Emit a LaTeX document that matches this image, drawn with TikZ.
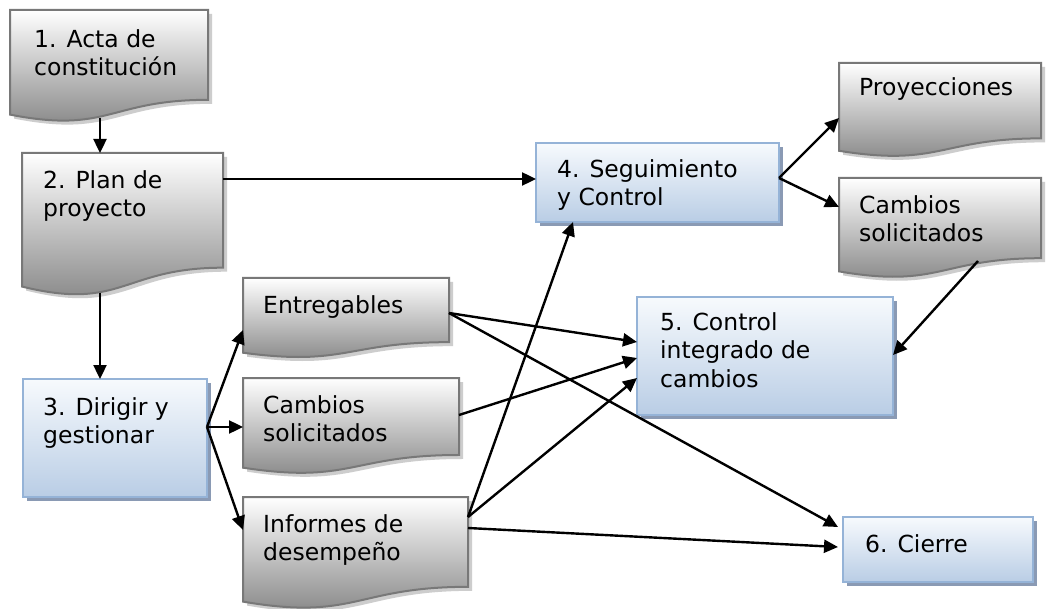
\documentclass[tikz,border=0pt]{standalone}
\usepackage{fontspec}
\setmainfont{DejaVu Sans}
\usetikzlibrary{arrows.meta,calc}
\definecolor{docshadow}{RGB}{205,205,205}
\definecolor{docborder}{RGB}{120,120,120}
\definecolor{doctop}{RGB}{255,255,255}
\definecolor{docbot}{RGB}{128,128,128}
\definecolor{boxshadow}{RGB}{138,154,180}
\definecolor{boxborder}{RGB}{149,179,215}
\definecolor{boxtop}{RGB}{247,250,253}
\definecolor{boxbot}{RGB}{185,205,229}
\tikzset{
  frame/.style={draw=none,inner sep=0pt,outer sep=0pt},
  txt/.style={anchor=north west,inner sep=0pt,align=left,font=\fontsize{23.5}{28.5}\selectfont},
  arr/.style={line width=2.4pt,-{Triangle[length=14pt,width=13pt]}},
}
\newcommand\docnode[8]{% name L T R H tx ty text
  \pgfmathsetmacro\yR{#3+0.802*#5}%
  \pgfmathsetmacro\yL{#3+0.934*#5}%
  \pgfmathsetmacro\yC{#3+1.108*#5}%
  \pgfmathsetmacro\xM{(#2+#4)/2}%
  \pgfmathsetmacro\yM{(#3+\yR)/2}%
  \pgfmathsetmacro\dW{#4-#2}%
  \pgfmathsetmacro\dH{\yR-#3}%
  \fill[docshadow,shift={(4,4)}] (#2,#3) -- (#4,#3) -- (#4,\yR) .. controls (\xM,\yR) and (\xM,\yC) .. (#2,\yL) -- cycle;
  \shade[top color=doctop,bottom color=docbot] (#2,#3) -- (#4,#3) -- (#4,\yR) .. controls (\xM,\yR) and (\xM,\yC) .. (#2,\yL) -- cycle;
  \draw[docborder,line width=2pt,line join=miter] (#2,#3) -- (#4,#3) -- (#4,\yR) .. controls (\xM,\yR) and (\xM,\yC) .. (#2,\yL) -- cycle;
  \node[frame,minimum width=\dW pt,minimum height=\dH pt] (#1) at (\xM,\yM) {};
  \node[txt] (#1t) at (#2+#6,#3+#7-21) {\rule{0pt}{21pt}#8};
}
\newcommand\boxnode[8]{% name L T R B tx ty text
  \pgfmathsetmacro\xM{(#2+#4)/2}%
  \pgfmathsetmacro\yM{(#3+#5)/2}%
  \pgfmathsetmacro\dW{#4-#2}%
  \pgfmathsetmacro\dH{#5-#3}%
  \fill[boxshadow] (#2+4,#3+4) rectangle (#4+4,#5+4);
  \shade[top color=boxtop,bottom color=boxbot] (#2,#3) rectangle (#4,#5);
  \draw[boxborder,line width=2pt] (#2,#3) rectangle (#4,#5);
  \node[frame,minimum width=\dW pt,minimum height=\dH pt] (#1) at (\xM,\yM) {};
  \node[txt] (#1t) at (#2+#6,#3+#7-21) {\rule{0pt}{21pt}#8};
}
\begin{document}
\begin{tikzpicture}[x=1pt,y=-1pt]
\useasboundingbox[fill=white] (0,0) rectangle (1046,609);
% shapes
\docnode{d1}{10}{10}{208}{112}{24}{37}{1. Acta de\\constitución}
\docnode{d2}{22}{153}{223}{143}{21}{35}{2. Plan de\\proyecto}
\boxnode{b3}{23}{379}{207}{497}{20}{36}{3. Dirigir y\\gestionar}
\boxnode{b4}{536}{143}{779}{222}{21}{34}{4. Seguimiento\\y Control}
\docnode{dP}{839}{63}{1041}{94}{20}{32}{Proyecciones}
\docnode{dC2}{839}{178}{1041}{100}{20}{35}{Cambios\\solicitados}
\docnode{dE}{243}{278}{449}{80}{20}{35}{Entregables}
\docnode{dC1}{243}{378}{459}{96}{20}{35}{Cambios\\solicitados}
\docnode{dI}{243}{497}{468}{112}{20}{35}{Informes de\\desempeño}
\boxnode{b5}{637}{297}{893}{415}{23}{33}{5. Control\\integrado de\\cambios}
\boxnode{b6}{843}{517}{1033}{582}{22}{35}{6. Cierre}
% connectors
\draw[arr] ($(d1.south west)+(90,18)$) -- ($(d2.north west)+(78,0)$);
\draw[arr] ($(d2.north east)+(0,26)$) -- ($(b4.north west)+(0,36)$);
\draw[arr] ($(d2.south west)+(78,25)$) -- ($(b3.north west)+(77,0)$);
\coordinate (fan3) at ($(b3.east)+(0,-11)$);
\draw[arr] (fan3) -- ($(dE.north west)+(0,52)$);
\draw[arr] (fan3) -- ($(dC1.north west)+(0,49)$);
\draw[arr] (fan3) -- ($(dI.north west)+(0,33)$);
\coordinate (fan4) at ($(b4.east)+(0,-4.5)$);
\draw[arr] (fan4) -- ($(dP.north west)+(0,55)$);
\draw[arr] (fan4) -- ($(dC2.north west)+(0,29)$);
\draw[arr] ($(dC2.north west)+(139,83)$) -- ($(b5.north east)+(0,58)$);
\coordinate (outE) at ($(dE.north east)+(0,35)$);
\draw[arr] (outE) -- ($(b5.north west)+(0,45)$);
\draw[arr] (outE) -- ($(b6.north west)+(-5,10)$);
\draw[arr] ($(dC1.north east)+(0,37)$) -- ($(b5.north west)+(0,61)$);
\coordinate (outI) at ($(dI.north east)+(0,20)$);
\draw[arr] (outI) -- ($(b4.south west)+(37,0)$);
\draw[arr] (outI) -- ($(b5.north west)+(0,81)$);
\draw[arr] ($(dI.north east)+(0,31)$) -- ($(b6.north west)+(-5,30)$);
\end{tikzpicture}
\end{document}
